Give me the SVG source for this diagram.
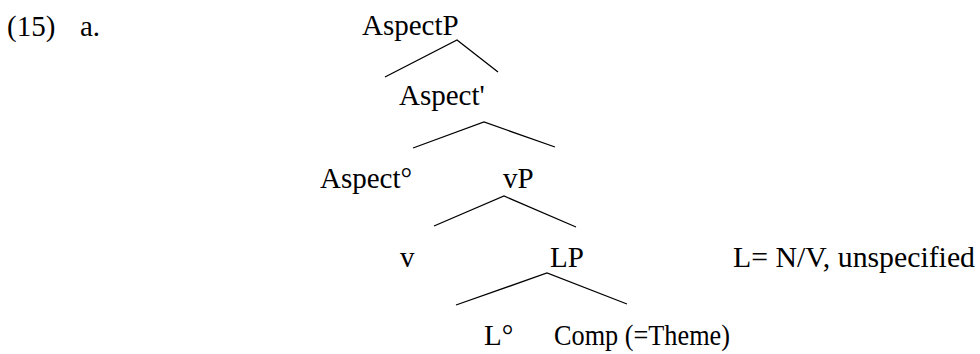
<svg xmlns="http://www.w3.org/2000/svg" width="980" height="354" viewBox="0 0 980 354">
<style>
text{font-family:"Liberation Serif","Times New Roman",serif;font-size:29px;fill:#000}
.e{stroke:#000;stroke-width:1.3;fill:none}
</style>
<rect width="980" height="354" fill="#fff"/>
<g id="label"><text x="7" y="36">(15)</text><text x="80" y="36">a.</text></g>
<g id="AspectP"><text x="362" y="35">AspectP</text></g>
<g id="AspectBar"><text x="399" y="105">Aspect'</text></g>
<g id="AspectHead"><text x="320" y="188">Aspect°</text></g>
<g id="vP"><text x="503" y="188">vP</text></g>
<g id="v"><text x="400" y="267">v</text></g>
<g id="LP"><text x="550" y="267">LP</text></g>
<g id="note"><text x="733" y="267" textLength="242" lengthAdjust="spacingAndGlyphs">L= N/V, unspecified</text></g>
<g id="Lhead"><text x="484" y="345">L°</text></g>
<g id="Comp"><text x="554" y="345" textLength="176" lengthAdjust="spacingAndGlyphs">Comp (=Theme)</text></g>
<g id="connectors">
<polyline class="e" points="385,77 457,40 498,72"/>
<polyline class="e" points="413,148 484,122 555,147"/>
<polyline class="e" points="434,226 504,196 576,227"/>
<polyline class="e" points="456,305 547,273 627,304"/>
</g>
</svg>
